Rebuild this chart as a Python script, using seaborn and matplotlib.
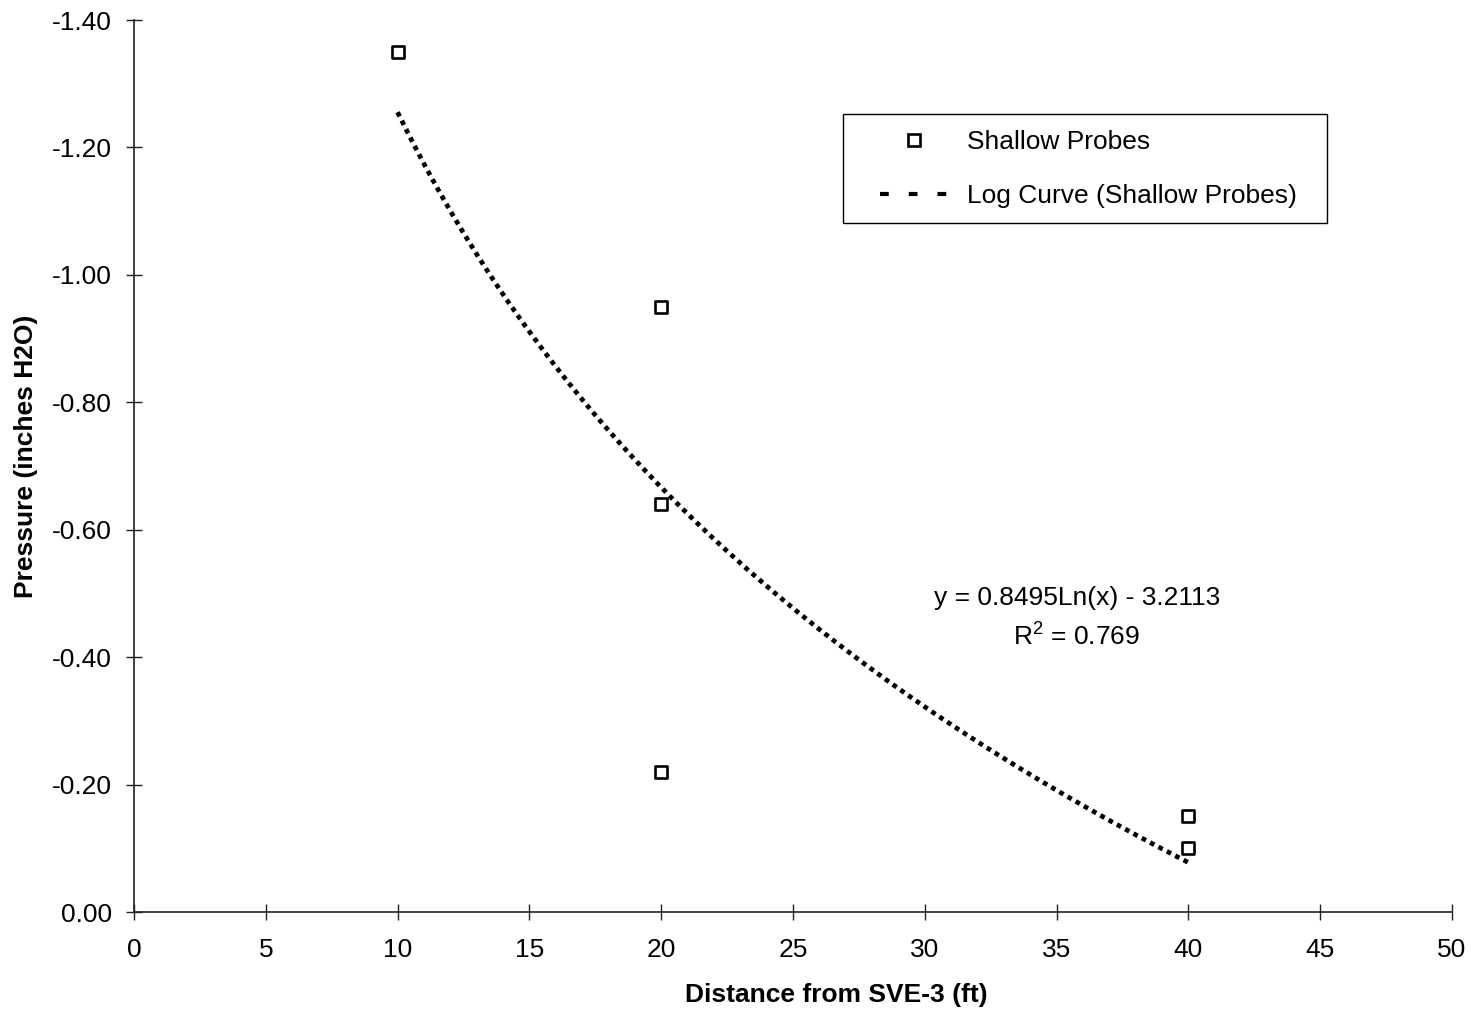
import numpy as np
import pandas as pd
import matplotlib
matplotlib.use("Agg")
import matplotlib.pyplot as plt
from matplotlib.lines import Line2D
from matplotlib.patches import Rectangle
import seaborn as sns

# ---- data ----
distance_ft = [10, 20, 20, 20, 40, 40]
pressure_in_h2o = [-1.35, -0.95, -0.64, -0.22, -0.15, -0.10]
x_ticks = [0, 5, 10, 15, 20, 25, 30, 35, 40, 45, 50]
y_ticks = [0.00, -0.20, -0.40, -0.60, -0.80, -1.00, -1.20, -1.40]
series_label = "Shallow Probes"
trend_label = "Log Curve (Shallow Probes)"
eq_text = "y = 0.8495Ln(x) - 3.2113"
r2_text = "R$^2$ = 0.769"

df = pd.DataFrame({"x": distance_ft, "y": pressure_in_h2o})

sns.set_style("ticks")
plt.rcParams["font.family"] = ["Liberation Sans", "DejaVu Sans"]
plt.rcParams["mathtext.fontset"] = "custom"
plt.rcParams["mathtext.rm"] = "Liberation Sans"
plt.rcParams["mathtext.it"] = "Liberation Sans:italic"
plt.rcParams["mathtext.bf"] = "Liberation Sans:bold"
plt.rcParams["text.color"] = "black"
plt.rcParams["axes.labelcolor"] = "black"

FS = 19

fig = plt.figure(figsize=(14.76, 10.18), dpi=100)
ax = fig.add_axes([134 / 1476, 1 - 912 / 1018, (1452 - 134) / 1476, (912 - 20) / 1018])
fig.patch.set_facecolor("white")
ax.set_facecolor("white")

# log trend line fitted by seaborn
sns.regplot(data=df, x="x", y="y", logx=True, ci=None, scatter=False, truncate=True,
            ax=ax, line_kws=dict(color="black", lw=3.4, linestyle=(0, (1, 1.0))))

# data points
sns.scatterplot(data=df, x="x", y="y", ax=ax, marker="s", s=76,
                facecolor="none", edgecolor="black", linewidth=1.9, zorder=5, legend=False)

ax.set_xlim(0, 50)
ax.set_ylim(0, -1.4)
ax.set_xticks(x_ticks)
ax.set_yticks(y_ticks)
ax.set_xticklabels([str(t) for t in x_ticks])
ax.set_yticklabels([f"{t:.2f}" for t in y_ticks])

for s in ["top", "right"]:
    ax.spines[s].set_visible(False)
for s in ["left", "bottom"]:
    ax.spines[s].set_color("#222222")
    ax.spines[s].set_linewidth(1.2)

ax.tick_params(axis="both", direction="inout", length=11.5, width=1.0, color="#222222",
               labelsize=FS, labelcolor="black")
ax.tick_params(axis="x", pad=13)
ax.tick_params(axis="y", pad=10)

ax.set_xlabel("Distance from SVE-3 (ft)", fontsize=FS, fontweight="bold", color="black")
ax.set_ylabel("Pressure (inches H2O)", fontsize=FS, fontweight="bold", color="black")
ax.xaxis.set_label_coords((836 - 134) / 1318, (912 - 983) / 892)
ax.yaxis.set_label_coords((38 - 134) / 1318, (912 - 456) / 892)

# equation text
ax.text(35.77, -0.4928, eq_text, ha="center", va="center", fontsize=FS, color="black")
ax.text(35.77, -0.4320, r2_text, ha="center", va="center", fontsize=FS, color="black")

# legend
handles = [
    Line2D([], [], marker="s", ls="none", mfc="none", mec="black", ms=8.7, mew=1.9),
    Line2D([], [], color="black", lw=3.0, dashes=(2.1, 4.8)),
]
leg = ax.legend(handles, [series_label, trend_label], loc="center left",
                bbox_to_anchor=((880 - 134) / 1318, (912 - 169) / 892),
                frameon=False, fontsize=FS, handlelength=2.58, handletextpad=0.72,
                labelspacing=1.12, borderpad=0, borderaxespad=0)
for t in leg.get_texts():
    t.set_color("black")
ax.add_patch(Rectangle(((843 - 134) / 1318, (912 - 223) / 892), 484 / 1318, 109 / 892,
                       transform=ax.transAxes, fill=False, edgecolor="black", lw=1.0,
                       clip_on=False, zorder=6))

fig.savefig("out.png", dpi=100, facecolor="white")
